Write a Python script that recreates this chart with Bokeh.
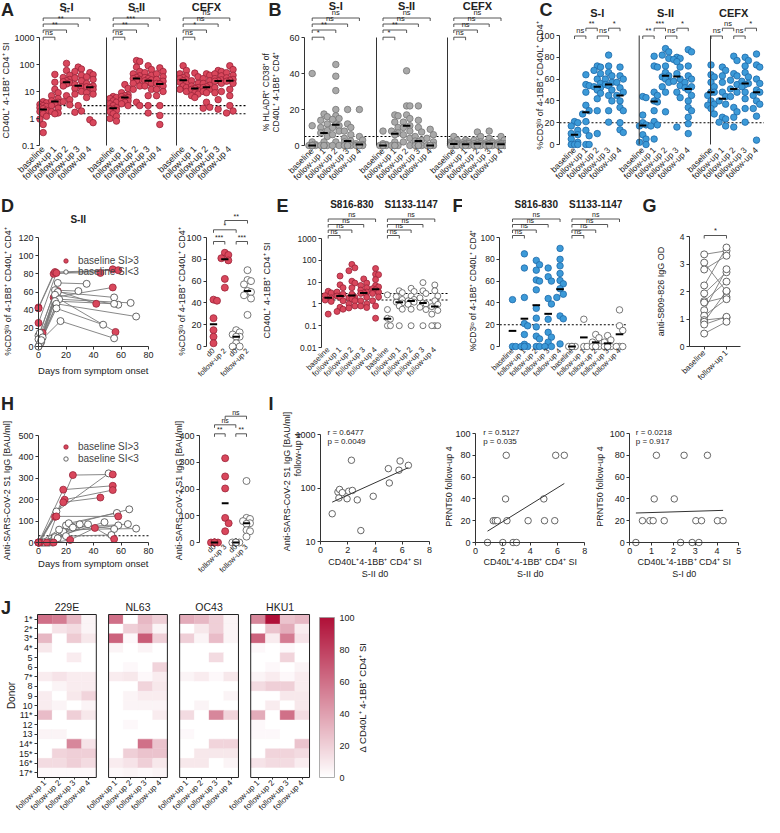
import numpy as np
from math import pi
from bokeh.plotting import figure
from bokeh.layouts import row, column
from bokeh.models import (Range1d, FixedTicker, Label, Legend, LegendItem,
                          LinearColorMapper, ColumnDataSource)
from bokeh.embed import file_html
from bokeh.resources import INLINE

# ============================ DATA ============================
TIMEPOINTS = ["baseline", "follow-up 1", "follow-up 2", "follow-up 3", "follow-up 4"]
POOLS = ["S-I", "S-II", "CEFX"]
PEPTIDES = ["S816-830", "S1133-1147"]

# A: CD40L+4-1BB+ CD4+ SI (log)
A_SI = [[4.2, 3.8, 3.3, 3.0, 2.8, 2.5, 2.3, 2.0, 1.8, 1.5, 1.2, 0.95, 0.6, 0.3],
        [43, 22, 12, 9, 7, 5.5, 4.5, 4.0, 3.5, 3.0, 2.4, 1.8, 1.6, 1.5],
        [110, 60, 40, 33, 28, 25, 23, 21, 19, 16, 7, 5, 4.2, 3.2],
        [80, 68, 55, 40, 32, 25, 18, 15, 13, 10, 8, 3, 1.9, 1.7],
        [50, 42, 35, 28, 20, 16, 15, 14, 12, 9, 8, 6, 0.9, 0.7]]
A_SII = [[6.5, 6.0, 5.5, 4.5, 4.0, 3.5, 3.0, 2.5, 2.3, 2.2, 2.0, 1.8, 1.5, 1.2, 1.0, 0.8],
         [18, 13, 9, 7.5, 7, 6.5, 6, 5.5, 5, 4.5, 4, 3.5, 3.0],
         [140, 130, 80, 55, 45, 38, 33, 30, 28, 25, 20, 16, 12, 4, 3],
         [90, 65, 50, 40, 33, 30, 27, 25, 22, 20, 16, 12, 7, 3, 1.6],
         [75, 55, 45, 35, 28, 24, 20, 19, 16, 12, 10, 7, 3, 1.3, 0.6]]
A_CEFX = [[90, 60, 45, 38, 33, 30, 27, 25, 22, 20, 16, 14, 12, 10],
          [48, 35, 25, 20, 16, 14, 13, 12, 11, 9, 8, 7, 6],
          [45, 40, 30, 25, 20, 17, 15, 14, 12, 10, 9, 4, 2.6, 2.4],
          [60, 55, 45, 38, 30, 27, 25, 24, 20, 14, 10, 9, 5, 2.2],
          [90, 65, 50, 40, 32, 28, 26, 24, 20, 12, 7, 3, 1.9, 1.6]]
A_SIG = [["ns", "**", "**", "**"], ["ns", "**", "***", "**"], ["ns", "*", "ns", "ns"]]
SI_THRESHOLDS = [3, 1.5]

# B: % HLADR+ CD38+
B_SI = [[40, 11, 2, 0.5, 0, 0, 0, 0, 0, 0, 0, 0, 0, 0],
        [17.5, 16, 14, 12, 10, 8.3, 7, 5, 2, 0, 0, 0, 0],
        [45, 38.5, 30.5, 20, 16.5, 15, 14.5, 11.5, 11, 10, 8, 6, 2, 0, 0],
        [20, 12, 10, 8, 6, 4, 2.5, 2, 0, 0, 0, 0, 0],
        [20, 5, 3, 1, 0.5, 0, 0, 0, 0]]
B_SII = [[8, 1, 0.5, 0, 0, 0, 0, 0, 0, 0],
         [17, 16.5, 13, 10, 8, 7, 6, 2, 0, 0, 0, 0],
         [41.5, 22, 22, 17, 15, 13, 11, 10, 8, 6, 4, 2, 0],
         [22, 14, 10, 7.5, 5, 3, 2.5, 2, 0, 0, 0, 0, 0],
         [9, 6, 4, 2, 0, 0, 0, 0, 0, 0]]
B_CEFX = [[5, 3, 2, 1.5, 1, 1, 0.8, 0.5, 0.3, 0, 0, 0],
          [3, 2, 1.5, 1, 1, 0.5, 0.3, 0, 0, 0],
          [7.5, 5, 3, 2, 1.5, 1, 1, 0.5, 0, 0, 0],
          [8, 4, 2, 1.5, 1, 1, 0.5, 0, 0, 0, 0],
          [5, 3, 1.5, 1, 1, 0.5, 0.2, 0, 0, 0]]
B_SIG = [["*", "**", "ns", "ns"], ["*", "**", "ns", "ns"], ["ns", "ns", "ns", "ns"]]
B_THRESHOLD = 5

# C: %CD3lo of 4-1BB+ CD40L+ CD4+
C_SI = [[21, 20, 17, 13, 10, 9, 5, 2, 0, 0, 0],
        [64, 55, 54, 48, 36, 31, 28, 21, 13, 8, 0, 0],
        [72, 71, 68, 65, 60, 56, 53, 52, 50, 47, 42, 31, 10],
        [82, 72, 66, 63, 60, 57, 55, 54, 50, 45, 40, 31, 20.5],
        [71, 63, 60, 57, 52, 48, 45, 40, 34, 31, 20, 13.5, 11]]
C_SII = [[44, 43, 27, 20, 18, 17, 9, 5, 2, 0],
         [81, 72, 71, 48, 45, 40, 39, 31, 21, 18, 17, 5],
         [88, 85, 82, 79, 72, 66, 63, 62, 60, 57, 53, 48, 30],
         [80, 79, 78, 76, 71, 65, 60, 58, 54, 48, 43, 16],
         [87, 85, 72, 63, 60, 57, 53, 52, 50, 45, 40, 34, 31, 25, 19, 10]]
C_CEFX = [[73, 64, 62, 57, 53, 48, 48, 45, 40, 37, 36, 33, 28],
          [71, 68, 63, 57, 48, 44, 40, 37, 25, 23.5, 20.5, 17],
          [81, 77, 65, 63, 59, 55, 51, 48, 44, 34, 30, 25, 16],
          [80, 77, 72, 66, 62, 58, 56, 55, 53, 48, 42, 33, 20.5],
          [83, 73, 71, 60, 56, 50, 48, 45, 40, 37, 33, 26, 4]]
C_SIG = [["ns", "**", "ns", "*"], ["**", "***", "ns", "*"], ["ns", "ns", "ns", "*"]]
CD3_THRESHOLD = 20

# D: S-II kinetics
D_HIGH_DAYS = [[0, 11, 54], [0, 12, 58], [0, 13, 45], [3, 11, 54], [2, 14, 42], [1, 12, 56]]
D_HIGH_VALS = [[43, 80, 85], [42, 82, 84], [26, 81, 81], [15, 54, 65], [9, 61, 47], [3, 55, 16]]
D_LOW_DAYS = [[0, 14, 35], [1, 12, 29], [0, 14, 55], [2, 12, 58], [0, 15, 67], [3, 12, 55],
              [1, 13, 71], [0, 13, 47], [2, 16, 55]]
D_LOW_VALS = [[12, 70, 69], [15, 62, 61], [8, 60, 54], [5, 57, 46], [0, 52, 48], [10, 50, 47],
              [3, 47, 33], [0, 42, 24], [7, 28, 9]]
D_CATS = ["d0", "follow-up 2", "d0", "follow-up 2"]
D_GROUPS = [[43, 42, 26, 15, 9, 3],
            [86, 84, 81, 79, 62, 54],
            [15, 13, 11, 9, 9, 3, 0, 0],
            [70, 61, 60, 57, 51, 50, 47, 44, 29]]
D_SIG = [(0, 1, "***", 246), (2, 3, "***", 246), (0, 2, "*", 234.3), (1, 3, "**", 225)]

# E: SI for S816-830 / S1133-1147
E_S816 = [[3.8, 3.2, 2.4, 1.9, 1.5, 1.3, 0.34],
          [19, 7.5, 5.5, 3.5, 2.8, 2.3, 2.0, 1.4, 0.7, 0.57, 0.45],
          [65, 45, 33, 11, 9, 5.5, 2.8, 2.0, 1.9, 1.7, 1.4, 1.0, 0.8, 0.65],
          [14, 9, 7, 5.5, 4.3, 3.5, 3.2, 3.0, 2.0, 1.4, 1.0, 0.8, 0.68],
          [42, 23, 22, 13, 7, 6, 5, 4.4, 3.5, 3.0, 2.1, 1.4, 0.8, 0.22]]
E_S1133 = [[2.6, 0.55, 0.22, 0.2, 0.1, 0.1],
           [4, 3.3, 2.2, 1.6, 1.2, 1.1, 0.8, 0.57, 0.1],
           [5.2, 3.7, 2.3, 1.6, 1.4, 1.3, 1.2, 0.95, 0.57, 0.1],
           [9.5, 4, 3, 1.9, 1.1, 1.0, 0.7, 0.55, 0.1],
           [7.4, 4, 2.3, 1.4, 0.95, 0.75, 0.5, 0.34, 0.1, 0.1, 0.1]]
# F: %CD3lo for S816-830 / S1133-1147
F_S816 = [[43, 0, 0],
          [85, 72, 45, 21, 19, 11, 2, 0, 0, 0],
          [79, 75, 70, 61, 60, 52, 35, 26, 18, 9.5, 7, 0, 0],
          [72, 64, 60, 44, 39, 25, 13, 8.6, 4, 0, 0],
          [90, 80, 74, 67, 60.5, 57.5, 53, 48, 45, 28, 25.4, 2.4]]
F_S1133 = [[0, 0, 0, 0],
           [25, 0, 0],
           [11, 8, 4, 0, 0, 0],
           [10, 6, 4, 0, 0, 0, 0],
           [33.6, 19, 14.7, 0, 0, 0]]
EF_SIG = ["ns", "ns", "ns", "ns"]

# G: anti-S809-826 IgG OD (paired)
G_CATS = ["baseline", "follow-up 1"]
G_BASELINE = [3.35, 3.05, 2.8, 2.22, 1.93, 1.65, 1.6, 1.32, 1.12, 0.96, 0.9, 0.8, 0.47]
G_FOLLOWUP = [3.48, 2.0, 3.3, 3.6, 2.7, 2.36, 1.8, 2.81, 1.72, 1.05, 2.02, 1.08, 0.9]

# H: anti-S1 IgG kinetics
H_HIGH_DAYS = [[0, 12, 25, 54], [0, 18, 54], [1, 19, 54], [0, 18, 45], [6, 13, 58], [11, 23, 41, 55]]
H_HIGH_VALS = [[0, 120, 315, 318], [0, 247, 265], [0, 200, 245], [0, 188, 210], [0, 122, 122], [0, 12, 68, 16]]
H_LOW_DAYS = [[0, 13, 51], [5, 20, 66], [8, 22, 57], [10, 25, 65], [3, 18, 58], [0, 15, 71],
              [2, 30, 55], [7, 12, 48], [0, 20, 53], [4, 14, 36]]
H_LOW_VALS = [[0, 145, 323], [0, 80, 155], [0, 90, 138], [0, 70, 86], [0, 50, 80], [0, 60, 65],
              [0, 85, 63], [0, 25, 95], [0, 30, 35], [0, 20, 85]]
H_THRESHOLD = 31.5
H_CATS = ["d0", "follow-up 3", "d0", "follow-up 3"]
H_GROUPS = [[0, 0, 0, 0, 0, 0],
            [315, 247, 202, 92, 72, 42],
            [0, 0, 0, 0, 0, 0, 0, 0, 0],
            [230, 92, 88, 80, 72, 70, 46, 42, 22]]
H_SIG = [(0, 1, "**", 438.3), (2, 3, "**", 438.3), (0, 2, "ns", 429.3), (1, 3, "ns", 420.7)]

# I: correlations
I1_X = [0.86, 1.28, 1.4, 1.35, 1.6, 1.95, 2.07, 2.34, 2.27, 2.7, 2.96, 3.87, 4.98, 5.05, 5.76, 5.84, 6.45]
I1_Y = [33, 84, 94, 65, 82, 63, 87, 90, 330, 60, 16, 70, 230, 124, 215, 320, 265]
I1_STATS = ["r = 0.6477", "p = 0.0049"]
I2_X = [0.88, 2.0, 2.75, 3.0, 1.3, 1.45, 1.6, 2.3, 3.85, 5.05, 5.8, 2.2, 5.0, 2.25, 5.87, 6.5]
I2_Y = [0, 0, 0, 0, 20, 20, 20, 20, 20, 20, 20, 40, 40, 80, 80, 80]
I2_STATS = ["r = 0.5127", "p = 0.035"]
I3_X = [0.28, 2.33, 2.86, 3.17, 0.58, 0.92, 1.07, 1.58, 3.03, 3.29, 4.02, 4.28, 1.12, 2.04, 1.22, 2.49, 3.56]
I3_Y = [0, 0, 0, 0, 20, 20, 20, 20, 20, 20, 20, 20, 40, 40, 80, 80, 80]
I3_STATS = ["r = 0.0218", "p = 0.917"]

# J: delta SI against seasonal coronaviruses
VIRUSES = ["229E", "NL63", "OC43", "HKU1"]
DONORS = ["1*", "2*", "3*", "4*", "5", "6", "7*", "8", "9", "10", "11*", "12", "13", "14*", "15*", "16*", "17*"]
FOLLOWUPS = ["follow-up 1", "follow-up 2", "follow-up 3", "follow-up 4"]
J_229E = [[60, 55, 30, 5], [0, 12, 15, 5], [30, 0, 22, 10], [10, 0, 0, 0], [0, 0, 8, 0], [0, 0, 0, 0],
          [8, 12, 8, 8], [0, 5, 8, 8], [8, 0, 10, 18], [8, 5, 0, 5], [28, 0, 20, 10], [0, 0, 0, 0],
          [5, 5, 0, 0], [0, 0, 50, 12], [0, 18, 20, 20], [15, 15, 20, 15], [3, 3, 3, 3]]
J_NL63 = [[60, 0, 30, 20], [0, 20, 25, 5], [65, 3, 68, 20], [5, 0, 5, 0], [0, 0, 0, 0], [0, 3, 0, 18],
          [8, 10, 3, 8], [0, 0, 18, 10], [0, 5, 8, 8], [0, 5, 5, 5], [0, 0, 0, 8], [0, 3, 0, 0],
          [0, 0, 0, 0], [0, 0, 60, 25], [0, 20, 25, 25], [8, 12, 20, 10], [3, 5, 3, 5]]
J_OC43 = [[35, 30, 20, 5], [0, 10, 20, 5], [20, 5, 28, 5], [0, 0, 0, 0], [0, 0, 15, 0], [0, 0, 0, 0],
          [5, 8, 3, 10], [0, 0, 0, 0], [0, 0, 0, 5], [0, 5, 0, 0], [15, 0, 50, 18], [0, 0, 0, 0],
          [3, 0, 0, 0], [0, 0, 18, 18], [0, 10, 10, 10], [10, 10, 0, 5], [0, 0, 0, 0]]
J_HKU1 = [[50, 100, 25, 30], [0, 25, 35, 8], [65, 8, 55, 12], [3, 0, 3, 0], [0, 0, 18, 0], [0, 3, 0, 5],
          [5, 8, 3, 8], [15, 20, 20, 8], [0, 0, 10, 10], [0, 8, 0, 10], [35, 0, 60, 15], [3, 0, 0, 0],
          [3, 3, 0, 0], [0, 0, 0, 25], [0, 18, 18, 15], [12, 15, 15, 8], [0, 0, 0, 0]]

# ============================ STYLE ============================
FONT = "Liberation Sans"
LETTER_FONT = "Liberation Sans Narrow, Liberation Sans"
RED_FILL, RED_LINE = "#d9475c", "#9a2338"
GRAY_FILL, GRAY_LINE = "#a9a9a9", "#767676"
BLUE_FILL, BLUE_LINE = "#3c9ad8", "#2069a8"
OPEN_FILL, OPEN_LINE = "white", "#555555"
TXT = "#222222"


def _cal(c, log):
    (v1, p1), (v2, p2) = c
    f = (lambda v: float(np.log10(v))) if log else (lambda v: float(v))
    u1, u2 = f(v1), f(v2)
    k = (u2 - u1) / (p2 - p1)

    def m(px):
        u = u1 + (px - p1) * k
        return float(10 ** u) if log else float(u)

    def inv(v):
        return p1 + (f(v) - u1) / k
    return m, inv


def mkfig(ref_left, ref_top, W, H, xcal, ycal, xlog=False, ylog=False, **kw):
    """Figure whose frame fills the whole canvas; axes are pinned with fixed_location."""
    xm, xi = _cal(xcal, xlog)
    ym, yi = _cal(ycal, ylog)
    p = figure(width=W, height=H,
               x_range=Range1d(xm(ref_left), xm(ref_left + W)),
               y_range=Range1d(ym(ref_top + H), ym(ref_top)),
               x_axis_type="log" if xlog else "linear", y_axis_type="log" if ylog else "linear",
               output_backend="svg", toolbar_location=None,
               min_border=0, min_border_left=0, min_border_right=0, min_border_top=0,
               min_border_bottom=0, **kw)
    p.outline_line_color = None
    p.xgrid.visible = False
    p.ygrid.visible = False
    return p, xm, ym, xi, yi


def sty(ax, fs, line=True, ticks=True, standoff=2, tick_out=3):
    ax.major_label_text_font = FONT
    ax.major_label_text_font_size = fs
    ax.major_label_text_color = TXT
    ax.axis_line_color = "#333333" if line else None
    ax.axis_line_width = 1
    ax.major_tick_line_color = "#333333" if ticks else None
    ax.minor_tick_line_color = None
    ax.major_tick_out = tick_out if ticks else 0
    ax.major_tick_in = 0
    ax.major_label_standoff = standoff


def num_y(p, at, ticks, bounds, fs, labels=None):
    p.yaxis.fixed_location = at
    p.yaxis.ticker = FixedTicker(ticks=ticks)
    p.yaxis.bounds = bounds
    if labels:
        p.yaxis.major_label_overrides = dict(zip(ticks, labels))
    sty(p.yaxis, fs)


def num_x(p, at, ticks, bounds, fs):
    p.xaxis.fixed_location = at
    p.xaxis.ticker = FixedTicker(ticks=ticks)
    p.xaxis.bounds = bounds
    sty(p.xaxis, fs)


def cat_x(p, at, positions, labels, fs, line=False, ticks=False, standoff=2, bounds=None):
    p.xaxis.fixed_location = at
    p.xaxis.ticker = FixedTicker(ticks=list(positions))
    p.xaxis.major_label_overrides = {pos: lab for pos, lab in zip(positions, labels)}
    p.xaxis.major_label_orientation = pi / 4
    if bounds is not None:
        p.xaxis.bounds = bounds
    sty(p.xaxis, fs, line=line, ticks=ticks, standoff=standoff)


def lab(p, x, y, s, fs="9px", bold=False, align="center", baseline="middle", angle=0.0, font=FONT):
    p.add_layout(Label(x=x, y=y, text=s, text_font=font, text_font_size=fs, angle=angle,
                       text_font_style="bold" if bold else "normal", text_color=TXT,
                       text_align=align, text_baseline=baseline))


def letter(p, xm, ym, rx, ry, s):
    lab(p, xm(rx), ym(ry), s, "18px", bold=True, align="left", baseline="top", font=LETTER_FONT)


def dotted(p, x0, x1, y):
    p.segment(x0=[x0], x1=[x1], y0=[y], y1=[y], line_color="#000000", line_dash="2 2", line_width=1.1,
              level="underlay")


def vsep(p, xs, lo, hi):
    p.segment(x0=xs, x1=xs, y0=[lo] * len(xs), y1=[hi] * len(xs), line_color="#333333", line_width=1)


def bracket(p, ym, xa, xb, ry, s, fs="7.5px"):
    y0, y1 = ym(ry), ym(ry + 3)
    p.segment(x0=[xa, xa, xb], y0=[y0, y0, y0], x1=[xb, xa, xb], y1=[y0, y1, y1],
              line_color="#444444", line_width=0.9)
    lab(p, (xa + xb) / 2, ym(ry - 0.6), s, fs, baseline="bottom")


def swarm(vals, center, yinv, unit_px, d, maxoff):
    ys = [yinv(v) for v in vals]
    order = sorted(range(len(vals)), key=lambda i: (ys[i], i))
    cands = [0.0]
    k = 1
    while k * d * 0.5 <= maxoff + 1e-9:
        cands += [k * d * 0.5, -k * d * 0.5]
        k += 1
    placed, out = [], [center] * len(vals)
    for i in order:
        best, best_alt, score = None, 0.0, -1.0
        for c in cands:
            if not placed:
                best = c
                break
            md = min((c - px) ** 2 + (ys[i] - py) ** 2 for px, py in placed)
            if md >= (0.9 * d) ** 2:
                best = c
                break
            if md > score:
                score, best_alt = md, c
        if best is None:
            best = best_alt
        placed.append((best, ys[i]))
        out[i] = center + best / unit_px
    return out


def cat_points(p, xi, yi, groups, fill, line, size=6.5, stat=np.median, halfw=0.32, maxfrac=0.4):
    unit = abs(xi(1) - xi(0))
    for cx, vals in groups:
        xs = swarm(vals, cx, yi, unit, size, maxfrac * unit)
        p.scatter(x=xs, y=vals, size=size, fill_color=fill, line_color=line, line_width=0.8)
    for cx, vals in groups:
        m = float(stat(vals))
        p.segment(x0=[cx - halfw], x1=[cx + halfw], y0=[m], y1=[m], line_color="black", line_width=2)


def legend(p, rhi, rlo, loc, lh):
    p.add_layout(Legend(items=[LegendItem(label="baseline SI>3", renderers=[rhi]),
                               LegendItem(label="baseline SI<3", renderers=[rlo])],
                        location=loc, label_text_font=FONT, label_text_font_size="10px",
                        glyph_width=11, glyph_height=11, label_height=lh, label_standoff=7,
                        spacing=0, padding=0, margin=0, border_line_color=None,
                        background_fill_alpha=0))


CD3_LABEL = "%CD3\u02e1\u1d52 of 4-1BB\u207a CD40L\u207a CD4\u207a"
SI_LABEL = "CD40L\u207a 4-1BB\u207a CD4\u207a SI"
IGG_LABEL = "Anti-SARS-CoV-2 S1 IgG [BAU/ml]"
CORR_X_LABEL = "CD40L\u207a4-1BB\u207a CD4\u207a SI"

# ============================ ROW 1 ============================
POS3 = [6 * g + k for g in range(3) for k in range(5)]
LEV4 = [41.7, 34.5, 28.5, 22.5]

# ---- A ----
pA, xA, yA, xiA, yiA = mkfig(4, 5, 248, 191, ((0, 46.7), (16, 233.3)), ((1000, 42), (0.1, 150)), ylog=True)
for thr in SI_THRESHOLDS:
    dotted(pA, xA(43), xA(251), thr)
grpA = [(6 * g + k, v) for g, grp in enumerate([A_SI, A_SII, A_CEFX]) for k, v in enumerate(grp)]
cat_points(pA, xiA, yiA, grpA, RED_FILL, RED_LINE, 6.5)
vsep(pA, [xA(110), xA(180)], 0.1, 1000)
num_y(pA, xA(43), [0.1, 1, 10, 100, 1000], (0.1, 1000), "9px", ["0.1", "1", "10", "100", "1000"])
cat_x(pA, 0.1, POS3, TIMEPOINTS * 3, "9px")
for g in range(3):
    lab(pA, 6 * g + 2, yA(11.2), POOLS[g], "11px", bold=True)
    for k in range(4):
        bracket(pA, yA, 6 * g, 6 * g + k + 1, LEV4[k], A_SIG[g][k])
letter(pA, xA, yA, 4.5, 4, "A")
lab(pA, xA(9.5), yA(95), SI_LABEL, "9px", angle=pi / 2)

# ---- B ----
pB, xB, yB, xiB, yiB = mkfig(252, 5, 258, 191, ((0, 315.7), (16, 504.5)), ((60, 42), (0, 150)))
dotted(pB, xB(308), xB(510), B_THRESHOLD)
grpB = [(6 * g + k, v) for g, grp in enumerate([B_SI, B_SII, B_CEFX]) for k, v in enumerate(grp)]
cat_points(pB, xiB, yiB, grpB, GRAY_FILL, GRAY_LINE, 6.5)
vsep(pB, [xB(380), xB(451)], 0, 60)
num_y(pB, xB(308), [0, 20, 40, 60], (0, 60), "9px")
cat_x(pB, yB(152), POS3, TIMEPOINTS * 3, "8.5px")
for g in range(3):
    lab(pB, 6 * g + 2, yB(10.5), POOLS[g], "11px", bold=True)
    for k in range(4):
        bracket(pB, yB, 6 * g, 6 * g + k + 1, LEV4[k], B_SIG[g][k])
letter(pB, xB, yB, 272, 4, "B")
lab(pB, xB(269.3), yB(96.7), "% HLADR\u207a CD38\u207a of", "8.5px", angle=pi / 2)
lab(pB, xB(279.5), yB(96.7), "CD40L\u207a 4-1BB\u207a CD4\u207a", "8.5px", angle=pi / 2)

# ---- C ----
pC, xC, yC, xiC, yiC = mkfig(510, 5, 258, 191, ((0, 578), (16, 760)), ((100, 40), (0, 149)))
dotted(pC, xC(563), xC(768), CD3_THRESHOLD)
grpC = [(6 * g + k, v) for g, grp in enumerate([C_SI, C_SII, C_CEFX]) for k, v in enumerate(grp)]
cat_points(pC, xiC, yiC, grpC, BLUE_FILL, BLUE_LINE, 6.5)
vsep(pC, [xC(642.7), xC(714)], 0, 100)
num_y(pC, xC(563), [0, 20, 40, 60, 80, 100], (0, 100), "9px")
cat_x(pC, yC(151), POS3, TIMEPOINTS * 3, "8.5px")
for g in range(3):
    lab(pC, 6 * g + 2, yC(17), POOLS[g], "11px", bold=True)
    for k in range(4):
        bracket(pC, yC, 6 * g + k, 6 * g + k + 1, 40.5 if k % 2 == 0 else 32.7, C_SIG[g][k])
letter(pC, xC, yC, 543, 4, "C")
lab(pC, xC(543.3), yC(90), CD3_LABEL, "9px", angle=pi / 2)

# ============================ ROW 2 ============================
# ---- D left ----
pDl, xDl, yDl, xiDl, yiDl = mkfig(4, 196, 162, 195, ((0, 42), (80, 152)), ((120, 242), (0, 351)))
pDl.multi_line(xs=D_HIGH_DAYS + D_LOW_DAYS, ys=D_HIGH_VALS + D_LOW_VALS, line_color="#7a7a7a", line_width=0.9)
rD_hi = pDl.scatter(x=sum(D_HIGH_DAYS, []), y=sum(D_HIGH_VALS, []), size=7, fill_color=RED_FILL,
                    line_color=RED_LINE, line_width=0.8)
rD_lo = pDl.scatter(x=sum(D_LOW_DAYS, []), y=sum(D_LOW_VALS, []), size=7, fill_color=OPEN_FILL,
                    line_color=OPEN_LINE, line_width=0.9)
num_x(pDl, 0, [0, 20, 40, 60, 80], (0, 80), "9px")
num_y(pDl, 0, [0, 20, 40, 60, 80, 100, 120], (0, 120), "9px")
legend(pDl, rD_hi, rD_lo, (60, 109), 11)
lab(pDl, xDl(81.7), yDl(224.3), "S-II", "10px", bold=True)
lab(pDl, xDl(96.7), yDl(375), "Days from symptom onset", "9.5px")
lab(pDl, xDl(11.7), yDl(296), CD3_LABEL, "9px", angle=pi / 2)
letter(pDl, xDl, yDl, 4.5, 200, "D")

# ---- D right ----
pDr, xDr, yDr, xiDr, yiDr = mkfig(166, 196, 94, 195, ((0, 217), (3, 251)), ((100, 242), (0, 351)))
cat_points(pDr, xiDr, yiDr, [(0, D_GROUPS[0]), (1, D_GROUPS[1])], RED_FILL, RED_LINE, 7)
cat_points(pDr, xiDr, yiDr, [(2, D_GROUPS[2]), (3, D_GROUPS[3])], OPEN_FILL, OPEN_LINE, 7)
num_y(pDr, xDr(210), [0, 20, 40, 60, 80, 100], (0, 100), "9px")
cat_x(pDr, yDr(353), [0, 1, 2, 3], D_CATS, "7.5px", standoff=1)
for a, b, s, ry in D_SIG:
    bracket(pDr, yDr, a, b, ry, s, "7px")
lab(pDr, xDr(185), yDr(296), CD3_LABEL, "9px", angle=pi / 2)

# ---- E ----
pE, xE, yE, xiE, yiE = mkfig(260, 196, 206, 195, ((0, 331.7), (9, 438.3)), ((1000, 243), (0.01, 352)), ylog=True)
for thr in SI_THRESHOLDS:
    dotted(pE, xE(325), xE(452), thr)
cat_points(pE, xiE, yiE, list(enumerate(E_S816)), RED_FILL, RED_LINE, 6)
cat_points(pE, xiE, yiE, [(5 + k, v) for k, v in enumerate(E_S1133)], OPEN_FILL, OPEN_LINE, 6)
num_y(pE, xE(325), [0.01, 0.1, 1, 10, 100, 1000], (0.01, 1000), "8.5px",
      ["0.01", "0.1", "1", "10", "100", "1000"])
cat_x(pE, 0.01, list(range(10)), TIMEPOINTS * 2, "7.8px", standoff=1)
LEV_EF = [240, 234.5, 229, 223.5]
for g in range(2):
    lab(pE, 5 * g + 2, yE(209), PEPTIDES[g], "10px", bold=True)
    for k in range(4):
        bracket(pE, yE, 5 * g, 5 * g + k + 1, LEV_EF[k], EF_SIG[k], "7px")
letter(pE, xE, yE, 280, 200, "E")
letter(pE, xE, yE, 456, 200, "F")
lab(pE, xE(270), yE(295), SI_LABEL, "9px", angle=pi / 2)

# ---- F ----
pF, xF, yF, xiF, yiF = mkfig(466, 196, 178, 195, ((0, 516), (9, 623)), ((100, 242), (0, 351)))
dotted(pF, xF(503.3), xF(630), CD3_THRESHOLD)
cat_points(pF, xiF, yiF, list(enumerate(F_S816)), BLUE_FILL, BLUE_LINE, 6.5, stat=np.mean)
cat_points(pF, xiF, yiF, [(5 + k, v) for k, v in enumerate(F_S1133)], OPEN_FILL, OPEN_LINE, 6.5,
           stat=np.mean)
num_y(pF, xF(503.3), [0, 20, 40, 60, 80, 100], (0, 100), "8.5px")
cat_x(pF, yF(353), list(range(10)), TIMEPOINTS * 2, "7.5px", standoff=1)
for g in range(2):
    lab(pF, 5 * g + 2, yF(209), PEPTIDES[g], "10px", bold=True)
    for k in range(4):
        bracket(pF, yF, 5 * g, 5 * g + k + 1, LEV_EF[k], EF_SIG[k], "7px")
lab(pF, xF(476.5), yF(295), CD3_LABEL, "8.5px", angle=pi / 2)

# ---- G ----
pG, xG, yG, xiG, yiG = mkfig(644, 196, 124, 195, ((0, 707.7), (1, 730)), ((4, 241), (0, 351)))
nG = len(G_BASELINE)
pG.segment(x0=[0] * nG, y0=G_BASELINE, x1=[1] * nG, y1=G_FOLLOWUP, line_color="#7a7a7a", line_width=0.9)
pG.scatter(x=[0] * nG, y=G_BASELINE, size=7, fill_color=OPEN_FILL, line_color=OPEN_LINE, line_width=0.9)
pG.scatter(x=[1] * nG, y=G_FOLLOWUP, size=7, fill_color=OPEN_FILL, line_color=OPEN_LINE, line_width=0.9)
num_y(pG, xG(693), [0, 1, 2, 3, 4], (0, 4), "8.5px")
cat_x(pG, 0, [0, 1], G_CATS, "8px", line=True, ticks=True, bounds=(xG(693), xG(744)))
bracket(pG, yG, 0, 1, 240, "*", "7.5px")
letter(pG, xG, yG, 646, 200, "G")
lab(pG, xG(664), yG(296), "anti-S809-826 IgG OD", "9px", angle=pi / 2)

# ============================ ROW 3 ============================
# ---- H left ----
pHl, xHl, yHl, xiHl, yiHl = mkfig(4, 391, 162, 195, ((0, 42), (80, 152)), ((500, 440), (0, 547)))
dotted(pHl, 0, 80, H_THRESHOLD)
pHl.multi_line(xs=H_HIGH_DAYS + H_LOW_DAYS, ys=H_HIGH_VALS + H_LOW_VALS, line_color="#7a7a7a", line_width=0.9)
rH_lo = pHl.scatter(x=sum(H_LOW_DAYS, []), y=sum(H_LOW_VALS, []), size=7, fill_color=OPEN_FILL,
                    line_color=OPEN_LINE, line_width=0.9)
rH_hi = pHl.scatter(x=sum(H_HIGH_DAYS, []), y=sum(H_HIGH_VALS, []), size=7, fill_color=RED_FILL,
                    line_color=RED_LINE, line_width=0.8)
num_x(pHl, 0, [0, 20, 40, 60, 80], (0, 80), "9px")
num_y(pHl, 0, [0, 100, 200, 300, 400, 500], (0, 500), "9px")
legend(pHl, rH_hi, rH_lo, (60, 117), 12)
lab(pHl, xHl(96.7), yHl(568), "Days from symptom onset", "9.5px")
lab(pHl, xHl(10.5), yHl(495), IGG_LABEL, "9px", angle=pi / 2)
letter(pHl, xHl, yHl, 4.5, 398, "H")

# ---- H right ----
pHr, xHr, yHr, xiHr, yiHr = mkfig(166, 391, 92, 195, ((0, 218), (3, 250)), ((400, 440), (0, 547)))
cat_points(pHr, xiHr, yiHr, [(0, H_GROUPS[0]), (1, H_GROUPS[1])], RED_FILL, RED_LINE, 7)
cat_points(pHr, xiHr, yiHr, [(2, H_GROUPS[2]), (3, H_GROUPS[3])], OPEN_FILL, OPEN_LINE, 7)
num_y(pHr, xHr(203), [0, 100, 200, 300, 400], (0, 400), "9px")
cat_x(pHr, yHr(549), [0, 1, 2, 3], H_CATS, "7.5px", standoff=1)
for a, b, s, ry in H_SIG:
    bracket(pHr, yHr, a, b, ry, s, "7px")
lab(pHr, xHr(182), yHr(495), IGG_LABEL, "9px", angle=pi / 2)


# ---- I panels ----
def corr_panel(p, xm, ym, xs, ys, stats, logy, rx_stats):
    p.scatter(x=xs, y=ys, size=6.5, fill_color=OPEN_FILL, line_color=OPEN_LINE, line_width=0.9)
    xs_a = np.array(xs, float)
    fx = [float(xs_a.min()), float(xs_a.max())]
    if logy:
        b, a = np.polyfit(xs_a, np.log10(np.array(ys, float)), 1)
        fy = [float(10 ** (a + b * v)) for v in fx]
    else:
        b, a = np.polyfit(xs_a, np.array(ys, float), 1)
        fy = [float(a + b * v) for v in fx]
    p.line(x=fx, y=fy, line_color="#333333", line_width=1)
    lab(p, xm(rx_stats), ym(436.7), stats[0], "8px", align="left")
    lab(p, xm(rx_stats), ym(445.5), stats[1], "8px", align="left")


pI1, xI1, yI1, _, _ = mkfig(258, 391, 186, 195, ((0, 324), (8, 433)), ((1000, 439), (10, 546)), ylog=True)
corr_panel(pI1, xI1, yI1, I1_X, I1_Y, I1_STATS, True, 331)
num_y(pI1, 0, [10, 100, 1000], (10, 1000), "9px", ["10", "100", "1000"])
num_x(pI1, 10, [0, 2, 4, 6, 8], (0, 8), "9px")
lab(pI1, xI1(290.5), yI1(486), IGG_LABEL, "9px", angle=pi / 2)
lab(pI1, xI1(301), yI1(459), "follow-up 4", "9px", angle=pi / 2)
lab(pI1, xI1(378.5), yI1(566.7), CORR_X_LABEL, "9px")
lab(pI1, xI1(378.5), yI1(578.3), "S-II d0", "9px")
letter(pI1, xI1, yI1, 272, 398, "I")

pI2, xI2, yI2, _, _ = mkfig(444, 391, 150, 195, ((0, 479), (8, 588.3)), ((100, 438), (0, 547)))
corr_panel(pI2, xI2, yI2, I2_X, I2_Y, I2_STATS, False, 486.7)
num_y(pI2, 0, [0, 20, 40, 60, 80, 100], (0, 100), "9px")
num_x(pI2, 0, [0, 2, 4, 6, 8], (0, 8), "9px")
lab(pI2, xI2(452), yI2(491), "PRNT50 follow-up 4", "9px", angle=pi / 2)
lab(pI2, xI2(533.7), yI2(566.7), CORR_X_LABEL, "9px")
lab(pI2, xI2(533.7), yI2(578.3), "S-II d0", "9px")

pI3, xI3, yI3, _, _ = mkfig(594, 391, 170, 195, ((0, 633.3), (5, 742.3)), ((100, 438), (0, 547)))
corr_panel(pI3, xI3, yI3, I3_X, I3_Y, I3_STATS, False, 639.3)
num_y(pI3, 0, [0, 20, 40, 60, 80, 100], (0, 100), "9px")
num_x(pI3, 0, [0, 1, 2, 3, 4, 5], (0, 5), "9px")
lab(pI3, xI3(603.5), yI3(491), "PRNT50 follow-up 4", "9px", angle=pi / 2)
lab(pI3, xI3(687.8), yI3(566.7), CORR_X_LABEL, "9px")
lab(pI3, xI3(687.8), yI3(578.3), "S-I d0", "9px")


# ============================ ROW 4 (J) ============================
def ramp(c0, c1, n):
    a = np.array([int(c0[i:i + 2], 16) for i in (1, 3, 5)], float)
    b = np.array([int(c1[i:i + 2], 16) for i in (1, 3, 5)], float)
    return ["#%02x%02x%02x" % tuple(int(round(v)) for v in a + (b - a) * t) for t in np.linspace(0, 1, n)]


HEAT_PALETTE = ramp("#ffffff", "#b01038", 256)
mapper = LinearColorMapper(palette=HEAT_PALETTE, low=0, high=100)
PANEL_STEP = 4.834

pJ, xJ, yJ, _, _ = mkfig(4, 586, 312, 236, ((0, 41), (18.5, 313)), ((0.5, 619), (17.5, 782)))
cells = dict(x=[], y=[], v=[])
for vi, mat in enumerate([J_229E, J_NL63, J_OC43, J_HKU1]):
    off = vi * PANEL_STEP
    for i, rowv in enumerate(mat):
        for j, v in enumerate(rowv):
            cells["x"].append(round(off + j + 0.5, 3))
            cells["y"].append(i + 1)
            cells["v"].append(v)
pJ.rect(x="x", y="y", width=1, height=1, source=ColumnDataSource(cells),
        fill_color={"field": "v", "transform": mapper}, line_color={"field": "v", "transform": mapper},
        line_width=0.4)
pJ.rect(x=[round(vi * PANEL_STEP + 2, 3) for vi in range(4)], y=[9] * 4, width=4, height=17,
        fill_color=None, line_color="#222222", line_width=1)
jpos = [round(vi * PANEL_STEP + j + 0.5, 3) for vi in range(4) for j in range(4)]
cat_x(pJ, 17.5, jpos, FOLLOWUPS * 4, "8px", ticks=True, bounds=(0, 18.5))
pJ.xaxis.major_tick_out = 2
pJ.yaxis.fixed_location = 0
pJ.yaxis.ticker = FixedTicker(ticks=list(range(1, 18)))
pJ.yaxis.major_label_overrides = {i + 1: d for i, d in enumerate(DONORS)}
pJ.yaxis.bounds = (0.5, 17.5)
sty(pJ.yaxis, "9px", line=False, ticks=True)
for vi, name in enumerate(VIRUSES):
    lab(pJ, round(vi * PANEL_STEP + 2, 3), yJ(611.5), name, "10.5px")
letter(pJ, xJ, yJ, 4.5, 602, "J")
lab(pJ, xJ(15), yJ(700), "Donor", "10px", angle=pi / 2)

pCB, xCB, yCB, _, _ = mkfig(316, 586, 78, 236, ((0, 323), (1, 338)), ((100, 622), (0, 782)),
                            x_axis_location=None, y_axis_location="right")
pCB.image(image=[np.linspace(0, 100, 256).reshape(256, 1)], x=0, y=0, dw=1, dh=100, color_mapper=mapper)
pCB.rect(x=[0.5], y=[50], width=1, height=100, fill_color=None, line_color="#999999", line_width=0.8)
pCB.yaxis.fixed_location = 1
pCB.yaxis.ticker = FixedTicker(ticks=[0, 20, 40, 60, 80, 100])
pCB.yaxis.bounds = (0, 100)
sty(pCB.yaxis, "9px", line=False, ticks=False, standoff=5)
lab(pCB, xCB(366), yCB(702), "\u0394 CD40L\u207a 4-1BB\u207a CD4\u207a SI", "9.5px", angle=pi / 2)

layout = column(row(pA, pB, pC), row(pDl, pDr, pE, pF, pG), row(pHl, pHr, pI1, pI2, pI3), row(pJ, pCB))
open("out.html", "w").write(file_html(layout, INLINE, title="Figure"))
